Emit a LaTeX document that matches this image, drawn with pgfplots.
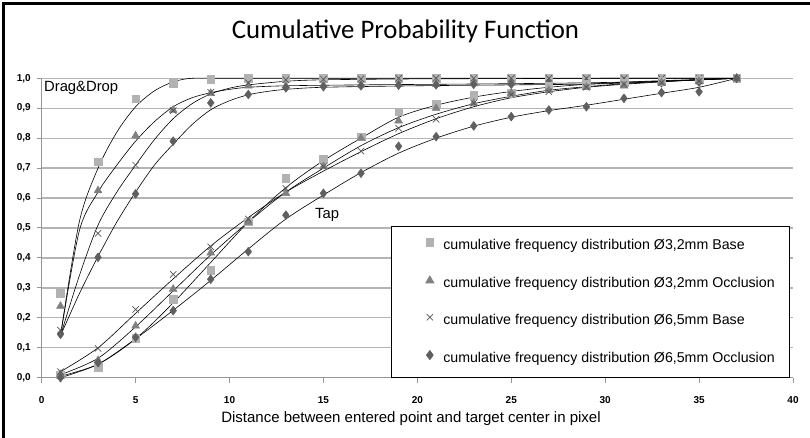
\documentclass[border=0pt]{standalone}
\usepackage{fontspec}
\setmainfont{Liberation Sans}
\newfontfamily\titlefont{Carlito}
\usepackage{pgfplots}
\usepackage{pgfplotstable}
\pgfplotsset{compat=1.18}

\definecolor{sqgray}{RGB}{178,178,178}
\definecolor{trigray}{RGB}{128,128,128}
\definecolor{xgray}{RGB}{85,85,85}
\definecolor{diagray}{RGB}{95,95,95}
\definecolor{gridgray}{RGB}{180,180,180}
\definecolor{axisgray}{RGB}{150,150,150}

% Drag&Drop measurements
\pgfplotstableread{
x  sq    tri   cr    dia
1  0.283 0.239 0.159 0.145
3  0.721 0.625 0.482 0.402
5  0.932 0.808 0.710 0.614
7  0.983 0.894 0.892 0.790
9  0.997 0.950 0.953 0.918
11 1.000 0.975 0.985 0.946
13 1.000 0.975 0.995 0.968
15 1.000 0.977 0.997 0.972
17 1.000 0.978 0.998 0.975
19 1.000 0.980 1.000 0.977
21 1.000 0.980 1.000 0.978
23 1.000 0.982 1.000 0.980
25 1.000 0.985 1.000 0.980
27 1.000 0.985 1.000 0.982
29 1.000 0.987 1.000 0.983
31 1.000 0.990 1.000 0.985
33 1.000 0.990 1.000 0.985
35 1.000 0.990 1.000 0.987
37 1.000 1.000 1.000 1.000
}\dragdrop

% Tap measurements
\pgfplotstableread{
x  sq    tri   cr    dia
1  0.010 0.010 0.020 0.000
3  0.035 0.058 0.098 0.050
5  0.131 0.173 0.228 0.135
7  0.262 0.296 0.345 0.224
9  0.360 0.417 0.437 0.329
11 0.521 0.520 0.530 0.421
13 0.667 0.616 0.632 0.543
15 0.730 0.705 0.705 0.616
17 0.805 0.800 0.757 0.683
19 0.888 0.858 0.833 0.773
21 0.915 0.900 0.863 0.805
23 0.944 0.917 0.917 0.841
25 0.950 0.950 0.945 0.872
27 0.975 0.960 0.955 0.894
29 0.980 0.970 0.970 0.905
31 0.985 0.975 0.980 0.933
33 0.990 0.985 0.985 0.952
35 0.995 0.990 0.990 0.955
37 1.000 1.000 1.000 1.000
}\tap

\pgfplotsset{
  sqmark/.style={only marks, mark=square*, mark size=3.8pt, color=sqgray},
  trimark/.style={only marks, mark=triangle*, mark size=4.6pt, color=trigray},
  xmark/.style={only marks, mark=x, mark size=4.5pt, color=xgray, line width=0.7pt},
  diamark/.style={only marks, mark=diamond*, mark size=4.5pt, color=diagray},
  fit/.style={forget plot, black, line width=0.6pt, smooth, no marks},
}

\begin{document}
\begin{tikzpicture}
\path[use as bounding box] (0pt,0pt) rectangle (810pt,438pt);
\begin{axis}[
    at={(41.7pt,60.3pt)}, anchor=south west,
    scale only axis, width=751.3pt, height=299.4pt,
    xmin=0, xmax=40, ymin=0, ymax=1,
    xtick={0,5,10,15,20,25,30,35,40},
    ytick={0,0.1,0.2,0.3,0.4,0.5,0.6,0.7,0.8,0.9,1.0},
    axis x line*=bottom, axis y line*=left,
    axis line style={draw=axisgray, line width=1pt},
    tick style={draw=axisgray, line width=1pt},
    tick align=outside, major tick length=5pt,
    ymajorgrids, grid style={draw=gridgray, line width=1.3pt},
    /pgf/number format/assume math mode=true,
    tick label style={font=\bfseries\fontsize{10}{12}\selectfont},
    yticklabel style={/pgf/number format/fixed, /pgf/number format/fixed zerofill,
        /pgf/number format/precision=1, /pgf/number format/use comma, xshift=-2.5pt},
    xticklabel style={yshift=-10pt},
    clip=false,
    legend style={at={(0.465,0.507)}, anchor=north west, draw=black, line width=0.8pt,
        fill=white, inner xsep=15pt, inner ysep=12.5pt, row sep=23.4pt,
        font=\fontsize{14.2}{17}\selectfont,
        nodes={inner sep=0pt, text height=10pt, text depth=3pt},
        /tikz/every odd column/.append style={column sep=7pt}},
    legend cell align=left,
    legend image code/.code={\path (-23pt,0pt) (6pt,0pt); \draw[#1] plot coordinates {(0pt,3.5pt)};},
]
\addplot[sqmark] table[x=x,y=sq] {\dragdrop};
\addlegendentry{cumulative frequency distribution Ø3,2mm Base}
\addplot[trimark] table[x=x,y=tri] {\dragdrop};
\addlegendentry{cumulative frequency distribution Ø3,2mm Occlusion}
\addplot[xmark] table[x=x,y=cr] {\dragdrop};
\addlegendentry{cumulative frequency distribution Ø6,5mm Base}
\addplot[diamark] table[x=x,y=dia] {\dragdrop};
\addlegendentry{cumulative frequency distribution Ø6,5mm Occlusion}

\addplot[sqmark, forget plot] table[x=x,y=sq] {\tap};
\addplot[trimark, forget plot] table[x=x,y=tri] {\tap};
\addplot[xmark, forget plot] table[x=x,y=cr] {\tap};
\addplot[diamark, forget plot] table[x=x,y=dia] {\tap};

% trend lines, Drag&Drop
\addplot[fit] coordinates {
(1,0.14) (2,0.52) (3,0.70) (4,0.82) (5,0.905) (6,0.958) (7,0.988) (8,1.0) (10,1.0) (15,1.0) (20,1.0) (25,1.0) (30,1.0) (37,1.0)};
\addplot[fit] coordinates {
(1,0.14) (2,0.49) (3,0.62) (4,0.71) (5,0.79) (6,0.855) (7,0.905) (8,0.935) (9,0.952) (10,0.963) (11,0.97) (13,0.975) (17,0.978) (21,0.98) (25,0.982) (29,0.985) (33,0.99) (37,1.0)};
\addplot[fit] coordinates {
(1,0.14) (2,0.34) (3,0.51) (4,0.62) (5,0.71) (6,0.795) (7,0.865) (8,0.915) (9,0.948) (10,0.967) (11,0.978) (13,0.99) (15,0.995) (20,0.998) (25,0.999) (30,1.0) (37,1.0)};
\addplot[fit] coordinates {
(1,0.14) (2,0.28) (3,0.405) (4,0.52) (5,0.62) (6,0.71) (7,0.78) (8,0.845) (9,0.895) (10,0.925) (11,0.945) (12,0.956) (13,0.963) (15,0.97) (20,0.975) (25,0.978) (30,0.982) (37,1.0)};

% trend lines, Tap
\addplot[fit] coordinates {
(1,0.005) (3,0.045) (5,0.13) (7,0.25) (9,0.385) (11,0.52) (13,0.635) (15,0.725) (17,0.80) (19,0.87) (21,0.91) (23,0.937) (25,0.956) (27,0.97) (29,0.98) (31,0.987) (33,0.992) (35,0.996) (37,1.0)};
\addplot[fit] coordinates {
(1,0.01) (3,0.065) (5,0.17) (7,0.29) (9,0.41) (11,0.52) (13,0.62) (15,0.70) (17,0.775) (19,0.835) (21,0.88) (23,0.915) (25,0.94) (27,0.96) (29,0.972) (31,0.982) (33,0.99) (35,0.995) (37,1.0)};
\addplot[fit] coordinates {
(1,0.02) (3,0.10) (5,0.215) (7,0.33) (9,0.44) (11,0.535) (13,0.62) (15,0.69) (17,0.755) (19,0.815) (21,0.865) (23,0.905) (25,0.935) (27,0.955) (29,0.97) (31,0.98) (33,0.988) (35,0.995) (37,1.0)};
\addplot[fit] coordinates {
(1,0.0) (3,0.045) (5,0.13) (7,0.225) (9,0.325) (11,0.43) (13,0.53) (15,0.61) (17,0.685) (19,0.75) (21,0.80) (23,0.84) (25,0.87) (27,0.892) (29,0.91) (31,0.93) (33,0.95) (35,0.97) (37,1.0)};

\node[anchor=west, inner sep=0pt, font=\fontsize{14.8}{17}\selectfont] at (axis cs:0.12,0.968) {Drag\&Drop};
\node[anchor=west, inner sep=0pt, font=\fontsize{14.8}{17}\selectfont] at (axis cs:14.55,0.543) {Tap};
\end{axis}
\draw[line width=3pt] (3pt,0pt) -- (3pt,434.5pt) -- (810pt,434.5pt);
\node[anchor=base, inner sep=0pt, font=\titlefont\fontsize{26.8}{31}\selectfont] at (405.5pt,399pt) {Cumulative Probability Function};
\node[anchor=base, inner sep=0pt, font=\fontsize{15}{18}\selectfont] at (411pt,15pt) {Distance between entered point and target center in pixel};
\end{tikzpicture}
\end{document}
